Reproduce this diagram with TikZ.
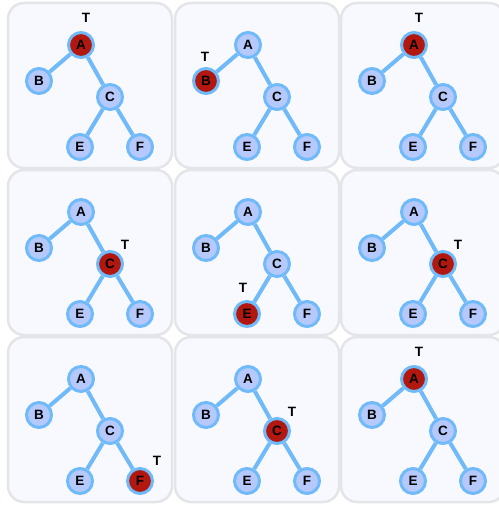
\documentclass[tikz,border=0pt]{standalone}
\usepackage{fontspec}
\setmainfont{Liberation Sans}
\usetikzlibrary{backgrounds}
\definecolor{edgeblue}{HTML}{70BAFA}
\definecolor{nodefill}{HTML}{B6C9FD}
\definecolor{hotred}{HTML}{B2180F}
\definecolor{panelfill}{HTML}{F7F9FE}
\definecolor{panelline}{HTML}{E3E5E9}
\tikzset{
  panelbox/.style={draw=panelline, fill=panelfill, line width=2.5pt, rounded corners=16pt},
  tnode/.style={circle, draw=edgeblue, fill=nodefill, line width=3pt, minimum size=25pt, inner sep=0pt,
     font=\fontsize{13.5}{15}\selectfont\bfseries, text=black},
  tlabel/.style={font=\fontsize{13.5}{15}\selectfont\bfseries, inner sep=0pt},
  tedge/.style={draw=edgeblue, line width=4pt},
}
\newcommand\treepanel[6]{%
  \begin{scope}[shift={(#2,#3)}, nA/.style={}, nB/.style={}, nC/.style={}, nE/.style={}, nF/.style={},
      n#4/.style={fill=hotred}]
    \begin{scope}[on background layer]
      \draw[panelbox] (0,0) rectangle (164,165);
    \end{scope}
    \node[tnode,nA] (#1A) at (73,42) {A};
    \node[tnode,nB] (#1B) at (31,78) {B};
    \node[tnode,nC] (#1C) at (102,94) {C};
    \node[tnode,nE] (#1E) at (72,144) {E};
    \node[tnode,nF] (#1F) at (132,144) {F};
    \node[tlabel] (#1T) at ([shift={(#5,#6)}]#1#4) {T};
  \end{scope}
}
\begin{document}
\begin{tikzpicture}[x=1pt,y=-1pt]
\useasboundingbox (0,0) rectangle (498,505);
\clip (0,0) rectangle (498,505);
\treepanel{a}{8}{3}{A}{5}{-27}
\treepanel{b}{175}{3}{B}{-1}{-24}
\treepanel{c}{341}{3}{A}{5}{-27}
\treepanel{d}{8}{170}{C}{15}{-19}
\treepanel{e}{175}{170}{E}{-4}{-26}
\treepanel{f}{341}{170}{C}{15}{-19}
\treepanel{g}{8}{337}{F}{17}{-20}
\treepanel{h}{175}{337}{C}{15}{-19}
\treepanel{i}{341}{337}{A}{5}{-27}
\begin{scope}[on background layer]
\foreach \p in {a,b,c,d,e,f,g,h,i}{
  \draw[tedge] (\p A) -- (\p B);
  \draw[tedge] (\p A) -- (\p C);
  \draw[tedge] (\p C) -- (\p E);
  \draw[tedge] (\p C) -- (\p F);
}
\end{scope}
\end{tikzpicture}
\end{document}
